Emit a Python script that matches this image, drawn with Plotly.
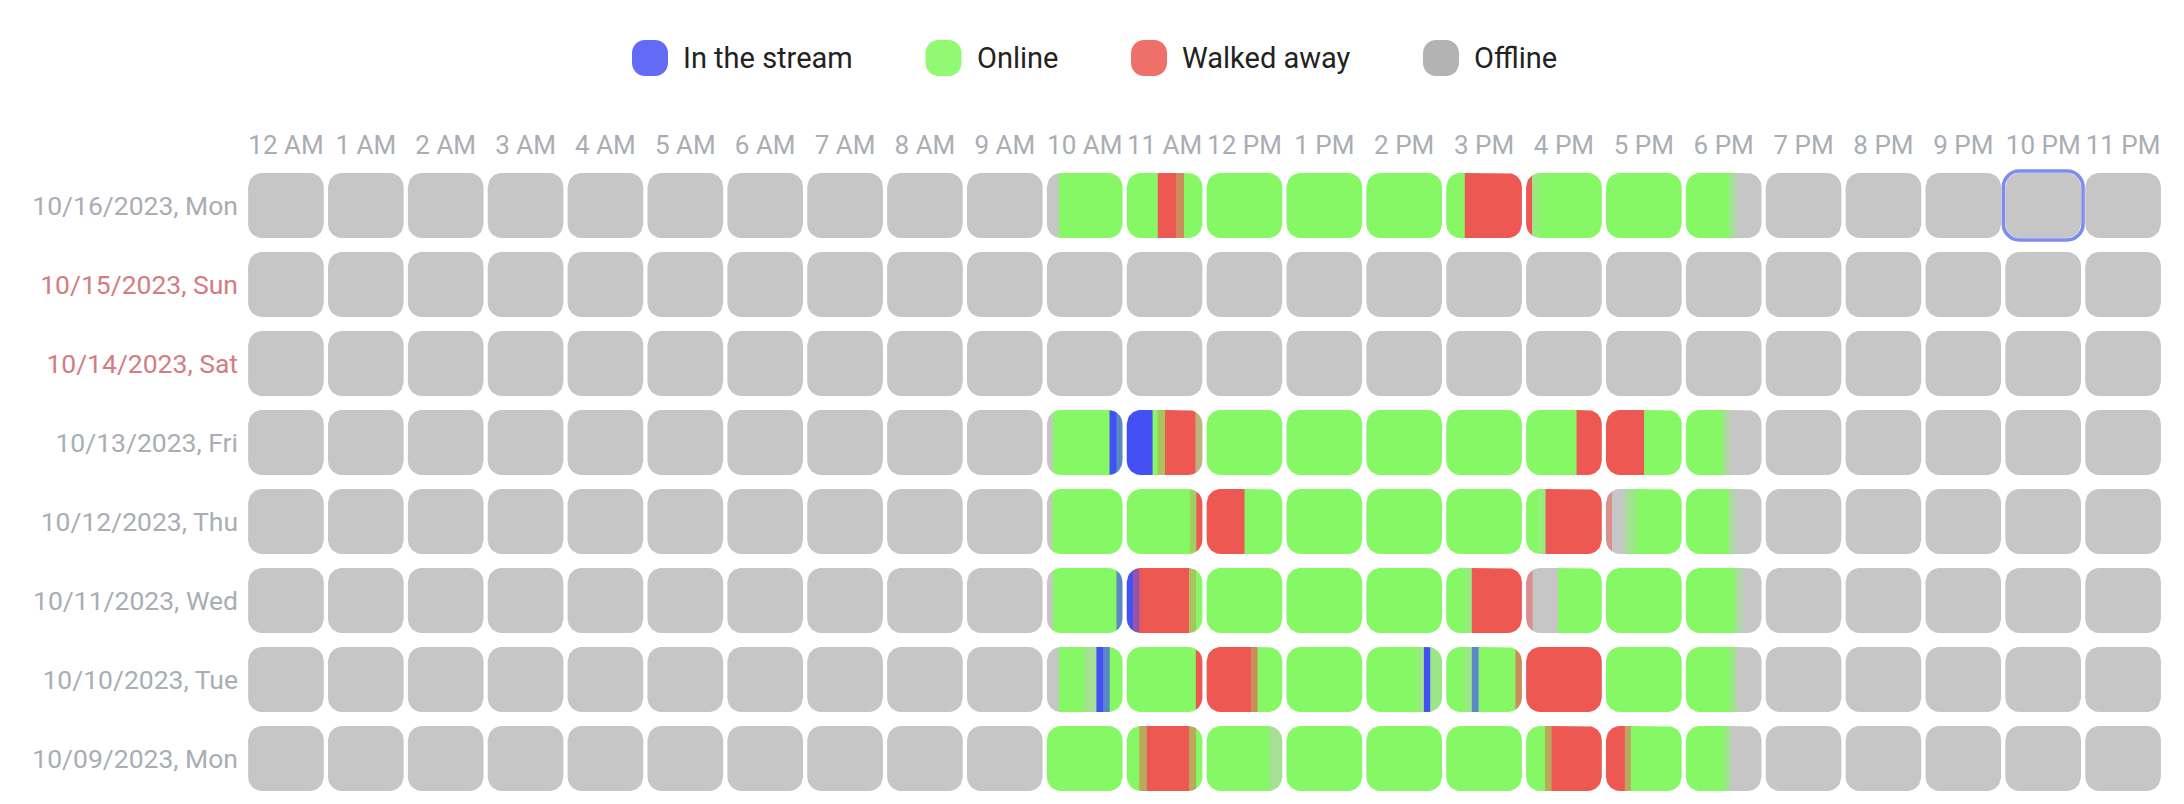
import math
import numpy as np
import plotly.graph_objects as go

# ---------------- data ----------------
HOUR_LABELS = ["12 AM", "1 AM", "2 AM", "3 AM", "4 AM", "5 AM", "6 AM", "7 AM",
               "8 AM", "9 AM", "10 AM", "11 AM", "12 PM", "1 PM", "2 PM", "3 PM",
               "4 PM", "5 PM", "6 PM", "7 PM", "8 PM", "9 PM", "10 PM", "11 PM"]

DAYS = ["10/16/2023, Mon", "10/15/2023, Sun", "10/14/2023, Sat", "10/13/2023, Fri",
        "10/12/2023, Thu", "10/11/2023, Wed", "10/10/2023, Tue", "10/09/2023, Mon"]
WEEKEND = [False, True, True, False, False, False, False, False]

STATES = ["st", "on", "wk", "off"]
STATE_NAMES = ["In the stream", "Online", "Walked away", "Offline"]

# segments: (hour, start minute, end minute, state); "a|b" = blended minutes
MON_1016 = [
    (10, 0, 9.5, "off"), (10, 9.5, 60, "on"),
    (11, 0, 24.6, "on"), (11, 24.6, 39.3, "wk"), (11, 39.3, 45, "wk|wk|on"), (11, 45, 60, "on"),
    (12, 0, 60, "on"), (13, 0, 60, "on"), (14, 0, 60, "on"),
    (15, 0, 14.7, "on"), (15, 14.7, 60, "wk"),
    (16, 0, 4.8, "wk"), (16, 4.8, 10.3, "on|on|on|off"), (16, 10.3, 60, "on"),
    (17, 0, 60, "on"),
    (18, 0, 34.2, "on"), (18, 34.2, 39.3, "on|off"), (18, 39.3, 60, "off"),
]
SUN_1015 = []
SAT_1014 = []
FRI_1013 = [
    (10, 0, 4.8, "off"), (10, 4.8, 49.7, "on"), (10, 49.7, 55.2, "st"), (10, 55.2, 60, "st|st|on"),
    (11, 0, 20.1, "st"), (11, 20.1, 24.5, "on"), (11, 24.5, 30, "wk|on|on"), (11, 30, 54.5, "wk"),
    (11, 54.5, 60, "wk|on|off"),
    (12, 0, 60, "on"), (13, 0, 60, "on"), (14, 0, 60, "on"), (15, 0, 60, "on"),
    (16, 0, 40, "on"), (16, 40, 60, "wk"),
    (17, 0, 29.8, "wk"), (17, 29.8, 60, "on"),
    (18, 0, 29.8, "on"), (18, 29.8, 34.5, "off|off|on"), (18, 34.5, 60, "off"),
]
THU_1012 = [
    (10, 0, 4.4, "off"), (10, 4.4, 60, "on"),
    (11, 0, 50, "on"), (11, 50, 54.8, "on|on|on|wk"), (11, 54.8, 60, "wk"),
    (12, 0, 29.7, "wk"), (12, 29.7, 60, "on"),
    (13, 0, 60, "on"), (14, 0, 60, "on"), (15, 0, 60, "on"),
    (16, 0, 10.3, "on"), (16, 10.3, 15, "on|on|on|off"), (16, 15, 60, "wk"),
    (17, 0, 4.4, "wk|off"), (17, 4.4, 15, "off"), (17, 15, 19.4, "on|off"),
    (17, 19.4, 24.2, "on|on|off"), (17, 24.2, 60, "on"),
    (18, 0, 34.2, "on"), (18, 34.2, 39.3, "off|off|on"), (18, 39.3, 60, "off"),
]
WED_1011 = [
    (10, 0, 4.8, "off"), (10, 4.8, 55.2, "on"), (10, 55.2, 60, "st|st|on"),
    (11, 0, 5.1, "st"), (11, 5.1, 9.9, "st|wk"), (11, 9.9, 49.5, "wk"),
    (11, 49.5, 54.6, "wk|on|on"), (11, 54.6, 60, "on"),
    (12, 0, 60, "on"), (13, 0, 60, "on"), (14, 0, 60, "on"),
    (15, 0, 14.7, "on"), (15, 14.7, 19.8, "on|on|on|off"), (15, 19.8, 60, "wk"),
    (16, 0, 4.8, "wk|off"), (16, 4.8, 25.3, "off"), (16, 25.3, 60, "on"),
    (17, 0, 60, "on"),
    (18, 0, 39.3, "on"), (18, 39.3, 44.8, "off|off|on"), (18, 44.8, 60, "off"),
]
TUE_1010 = [
    (10, 0, 9.5, "off"), (10, 9.5, 30, "on"), (10, 30, 39.3, "on|off"), (10, 39.3, 44.8, "st"),
    (10, 44.8, 49.5, "st|st|on"), (10, 49.5, 60, "on"),
    (11, 0, 54.8, "on"), (11, 54.8, 60, "wk"),
    (12, 0, 35.2, "wk"), (12, 35.2, 40, "wk|wk|on"), (12, 40, 60, "on"),
    (13, 0, 60, "on"),
    (14, 0, 40.4, "on"), (14, 40.4, 45.2, "on|on|off"), (14, 45.2, 50.7, "st"),
    (14, 50.7, 60, "on|on|off"),
    (15, 0, 14.7, "on"), (15, 14.7, 19.8, "on|on|off"), (15, 19.8, 25.3, "st|st|on"),
    (15, 25.3, 54.8, "on"), (15, 54.8, 60, "wk|wk|on"),
    (16, 0, 60, "wk"),
    (17, 0, 60, "on"),
    (18, 0, 34.2, "on"), (18, 34.2, 39.3, "on|on|off"), (18, 39.3, 60, "off"),
]
MON_1009 = [
    (10, 0, 60, "on"),
    (11, 0, 9.9, "on"), (11, 9.9, 15.4, "wk|on"), (11, 15.4, 49.5, "wk"),
    (11, 49.5, 54.6, "wk|on"), (11, 54.6, 60, "on"),
    (12, 0, 49.9, "on"), (12, 49.9, 60, "on|off"),
    (13, 0, 60, "on"), (14, 0, 60, "on"), (15, 0, 60, "on"),
    (16, 0, 15, "on"), (16, 15, 19.8, "wk|on"), (16, 19.8, 60, "wk"),
    (17, 0, 15, "wk"), (17, 15, 19.4, "wk|on"), (17, 19.4, 60, "on"),
    (18, 0, 29.8, "on"), (18, 29.8, 34.5, "on|on|off"), (18, 34.5, 60, "off"),
]
DAY_SEGMENTS = [MON_1016, SUN_1015, SAT_1014, FRI_1013, THU_1012, WED_1011, TUE_1010, MON_1009]

HOVER_DAY = "10/16/2023, Mon"
HOVER_HOUR = "10 PM"

# ---------------- style ----------------
CELL_RGB = {"st": (67, 80, 244), "on": (134, 248, 102), "wk": (238, 88, 82), "off": (198, 198, 198)}
LEGEND_COLORS = ["#636af6", "#92f973", "#ef6f69", "#b3b3b3"]
FONT = "Roboto"
OFF = 8                                   # page body margin
W, H = 2184 - 2 * OFF, 804 - 2 * OFF
ML, MT, MB = 248 - 2 - OFF, 166 - OFF, 0
PW = 1917
MR = W - ML - PW
PH = H - MT - MB
NCOL, NROW = len(HOUR_LABELS), len(DAYS)
PX_X, PX_Y = PW / NCOL, 79.0               # pixels per data unit
Y_SPAN = PH / PX_Y
GX, GY, RAD = 4.2 / PX_X, 14.0 / PX_Y, 14.0
RX, RY = RAD / PX_X, RAD / PX_Y


def mix_color(key):
    parts = key.split("|")
    rgb = [sum(CELL_RGB[p][k] for p in parts) / len(parts) for k in range(3)]
    return "rgb(%d,%d,%d)" % tuple(round(v) for v in rgb)


def inset(x, x0, x1):
    if x < x0 + RX:
        d = (x0 + RX - x) / RX
    elif x > x1 - RX:
        d = (x - (x1 - RX)) / RX
    else:
        return 0.0
    d = min(1.0, max(0.0, d))
    return RY * (1 - math.sqrt(max(0.0, 1 - d * d)))


def piece(col, row, s, e):
    x0, x1 = col + GX / 2, col + 1 - GX / 2
    y0, y1 = row + GY / 2, row + 1 - GY / 2
    a = x0 + (x1 - x0) * s / 60.0
    b = x0 + (x1 - x0) * e / 60.0
    if e < 60:
        b = min(x1, b + 0.5 / PX_X)   # tiny overlap to hide seams
    base = list(np.linspace(x0, x0 + RX, 18)) + list(np.linspace(x1 - RX, x1, 18))
    xs = [a] + [v for v in base if a < v < b] + [b]
    px = [v for v in xs] + [v for v in reversed(xs)]
    py = [y0 + inset(v, x0, x1) for v in xs] + [y1 - inset(v, x0, x1) for v in reversed(xs)]
    px.append(px[0]); py.append(py[0])
    return px, py


groups = {}
order = []


def add(key, col, row, s, e):
    if key not in groups:
        groups[key] = ([], [])
        order.append(key)
    px, py = piece(col, row, s, e)
    gx, gy = groups[key]
    gx.extend(px + [None]); gy.extend(py + [None])


for r, segs in enumerate(DAY_SEGMENTS):
    covered = set(h for h, _, _, _ in segs)
    for c in range(NCOL):
        if c not in covered:
            add("off", c, r, 0, 60)
    for h, s, e, st in segs:
        add(st, h, r, s, e)

fig = go.Figure()
for key in order:
    xs, ys = groups[key]
    col = mix_color(key)
    fig.add_trace(go.Scatter(x=xs, y=ys, mode="lines", fill="toself", fillcolor=col,
                             line=dict(width=0, color=col), hoverinfo="skip",
                             showlegend=False))


def rrect_path(w, h, r):
    k = 0.5523 * r
    hw, hh = w / 2, h / 2
    return (f"M {-hw + r},{-hh} L {hw - r},{-hh} C {hw - r + k},{-hh} {hw},{-hh + r - k} {hw},{-hh + r} "
            f"L {hw},{hh - r} C {hw},{hh - r + k} {hw - r + k},{hh} {hw - r},{hh} "
            f"L {-hw + r},{hh} C {-hw + r - k},{hh} {-hw},{hh - r + k} {-hw},{hh - r} "
            f"L {-hw},{-hh + r} C {-hw},{-hh + r - k} {-hw + r - k},{-hh} {-hw + r},{-hh} Z")


# hovered cell outline
hc, hr = HOUR_LABELS.index(HOVER_HOUR), DAYS.index(HOVER_DAY)
fig.add_shape(type="path", xref="x", yref="y", xsizemode="pixel", ysizemode="pixel",
              xanchor=hc + 0.5, yanchor=hr + 0.5,
              path=rrect_path(PX_X - GX * PX_X + 4, PX_Y - GY * PX_Y + 4, RAD + 2),
              line=dict(color="#7b8cef", width=3.5), fillcolor="rgba(0,0,0,0)")

# custom legend (centered row above the grid), positions in page pixels
LEG_MARK_X = [650, 943.5, 1149, 1441]
LEG_TEXT_X = [681, 975, 1180, 1472]
LEG_Y = 58


def paper_x(px):
    return (px - OFF - ML) / PW


def paper_y(py):
    return (H - MB - (py - OFF)) / PH


for i, name in enumerate(STATE_NAMES):
    fig.add_shape(type="path", xref="paper", yref="paper", xsizemode="pixel", ysizemode="pixel",
                  xanchor=paper_x(LEG_MARK_X[i]), yanchor=paper_y(LEG_Y),
                  path=rrect_path(36, 36, 13), line=dict(width=0), fillcolor=LEGEND_COLORS[i])
    fig.add_annotation(x=paper_x(LEG_TEXT_X[i]), y=paper_y(LEG_Y), xref="paper", yref="paper",
                       text=name, showarrow=False, xanchor="left", yanchor="middle",
                       font=dict(family=FONT, size=29, color="#222222"))

ytext = [f"<span style='color:#d47c81'>{d}</span>" if wk else d for d, wk in zip(DAYS, WEEKEND)]

fig.update_layout(
    width=W, height=H, margin=dict(l=ML, r=MR, t=MT, b=MB, pad=0),
    paper_bgcolor="white", plot_bgcolor="white",
    font=dict(family=FONT),
    xaxis=dict(range=[0, NCOL], side="top", tickvals=[c + 0.5 for c in range(NCOL)],
               ticktext=HOUR_LABELS, showgrid=False, zeroline=False, showline=False,
               ticks="", ticklabelstandoff=6, automargin=False,
               tickfont=dict(family=FONT, size=26, color="#a9adb4"), fixedrange=True),
    yaxis=dict(range=[Y_SPAN, 0], tickvals=[r + 0.5 for r in range(NROW)], ticktext=ytext,
               showgrid=False, zeroline=False, showline=False, ticks="", ticklabelstandoff=7,
               automargin=False,
               tickfont=dict(family=FONT, size=26.5, color="#a9adb4"), fixedrange=True),
    showlegend=False,
)

fig.write_html("out.html")
